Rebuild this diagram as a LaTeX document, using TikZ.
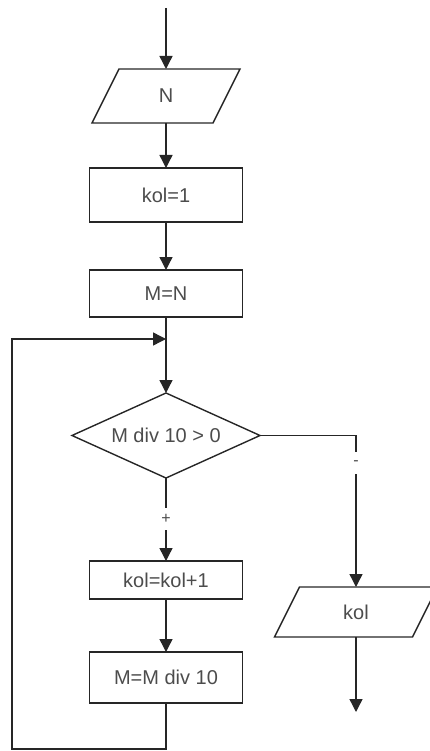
\documentclass[tikz,border=0pt]{standalone}
\usepackage{fontspec}
\setmainfont{Liberation Sans}
\usetikzlibrary{shapes.geometric}
\usetikzlibrary{arrows.meta}
\usetikzlibrary{positioning}

\begin{document}
\begin{tikzpicture}[x=1pt,y=-1pt,line width=1.4pt,color=black!85,
  every node/.style={font=\fontsize{20}{24}\selectfont,text=black!70,inner sep=0pt,outer sep=0pt},
  box/.style={draw,rectangle,minimum width=153pt},
  io/.style={rectangle},
  cond/.style={draw,diamond,aspect=2.2,minimum width=188pt,minimum height=85pt},
  sign/.style={font=\fontsize{16}{16}\selectfont,fill=white,minimum height=22pt},
  arr/.style={-{Triangle[length=13pt,width=13pt]}}]
\useasboundingbox (0,0) rectangle (430,751);

  \coordinate (start) at (166,8);
  \node[io,minimum width=121pt,minimum height=54pt] (inN) at (166,96) {N};
  \node[box,minimum height=54pt,below=45pt of inN] (1) {kol=1};
  \node[box,minimum height=47pt,below=48pt of 1] (2) {M=N};
  \coordinate (join) at (166,339);
  \node[cond,below=76pt of 2] (3) {M div 10 > 0};
  \node[box,minimum height=38pt,below=83pt of 3] (4) {kol=kol+1};
  \node[box,minimum height=51pt,below=53pt of 4] (5) {M=M div 10};
  \coordinate (back) at (12,749);

  % no-branch: output
  \node[io,minimum width=138pt,minimum height=50pt] (outK) at (356,612) {kol};
  \coordinate (stop) at (356,712);

  % slanted outlines of the in/out blocks
  \foreach \n/\s in {inN/13.5,outK/12.5}
    \draw ([xshift=\s pt]\n.north west) -- ([xshift=\s pt]\n.north east)
      -- ([xshift=-\s pt]\n.south east) -- ([xshift=-\s pt]\n.south west) -- cycle;

  \draw[arr] (start) -- (inN);
  \draw[arr] (inN) -- (1);
  \draw[arr] (1) -- (2);
  \draw[arr] (2) -- (3);
  \draw[arr] (3) -- node[sign,pos=0.49]{+} (4);
  \draw[arr] (4) -- (5);
  \draw[arr] (5) |- (back) |- (join);
  \draw[arr] (3.east) -| node[sign,pos=0.59]{-} (outK);
  \draw[arr] (outK) -- (stop);
\end{tikzpicture}
\end{document}
